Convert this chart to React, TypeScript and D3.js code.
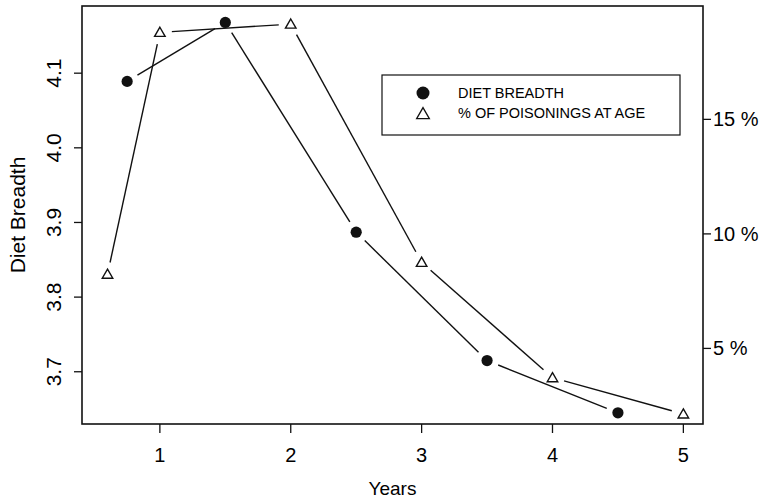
import React, { useRef, useEffect } from "react";
import * as d3 from "d3";

const dietYears = [0.75, 1.5, 2.5, 3.5, 4.5];
const dietBreadth = [4.089, 4.168, 3.887, 3.715, 3.645];
const poisonYears = [0.6, 1, 2, 3, 4, 5];
const poisonPct = [8.24, 18.8, 19.16, 8.76, 3.72, 2.14];
const xTicks = [1, 2, 3, 4, 5];
const leftTicks = [3.7, 3.8, 3.9, 4.0, 4.1];
const rightTicks = [5, 10, 15];
const legendLabels = ["DIET BREADTH", "% OF POISONINGS AT AGE"];

const W = 764;
const H = 501;
const FONT = "'Liberation Sans', Arial, Helvetica, sans-serif";

const App = () => {
  const ref = useRef<SVGSVGElement | null>(null);

  useEffect(() => {
    if (!ref.current) return;
    const svg = d3.select(ref.current);
    svg.selectAll("*").remove();

    const left = 82;
    const right = 703;
    const top = 6;
    const bottom = 424;

    const x = d3.scaleLinear().domain([0.405, 5.15]).range([left, right]);
    const yL = d3.scaleLinear().domain([3.63, 4.19]).range([bottom, top]);
    const yR = d3.scaleLinear().domain([1.7, 19.95]).range([bottom, top]);

    svg.append("rect").attr("width", W).attr("height", H).attr("fill", "#fff");

    // segments with gaps around points (like R type="b")
    const drawSeries = (pts: [number, number][], gap: number) => {
      for (let i = 0; i < pts.length - 1; i++) {
        const [x1, y1] = pts[i];
        const [x2, y2] = pts[i + 1];
        const dx = x2 - x1;
        const dy = y2 - y1;
        const len = Math.sqrt(dx * dx + dy * dy);
        if (len <= gap * 2) continue;
        const ux = dx / len;
        const uy = dy / len;
        svg
          .append("line")
          .attr("x1", x1 + ux * gap)
          .attr("y1", y1 + uy * gap)
          .attr("x2", x2 - ux * gap)
          .attr("y2", y2 - uy * gap)
          .attr("stroke", "#111")
          .attr("stroke-width", 1.4);
      }
    };

    const dietPts: [number, number][] = dietYears.map((d, i) => [x(d), yL(dietBreadth[i])]);
    const poisonPts: [number, number][] = poisonYears.map((d, i) => [x(d), yR(poisonPct[i])]);

    drawSeries(dietPts, 12);
    drawSeries(poisonPts, 12);

    const tri = d3.symbol().type(d3.symbolTriangle).size(48);

    svg
      .selectAll(".dot")
      .data(dietPts)
      .enter()
      .append("circle")
      .attr("cx", (d) => d[0])
      .attr("cy", (d) => d[1])
      .attr("r", 5.6)
      .attr("fill", "#111");

    svg
      .selectAll(".tri")
      .data(poisonPts)
      .enter()
      .append("path")
      .attr("d", tri)
      .attr("transform", (d) => `translate(${d[0]},${d[1] + 1})`)
      .attr("fill", "none")
      .attr("stroke", "#111")
      .attr("stroke-width", 1.4);

    // frame
    svg
      .append("rect")
      .attr("x", left)
      .attr("y", top)
      .attr("width", right - left)
      .attr("height", bottom - top)
      .attr("fill", "none")
      .attr("stroke", "#111")
      .attr("stroke-width", 1.6);

    // bottom axis
    const gx = svg.append("g");
    xTicks.forEach((t) => {
      gx.append("line")
        .attr("x1", x(t))
        .attr("x2", x(t))
        .attr("y1", bottom)
        .attr("y2", bottom + 9)
        .attr("stroke", "#111")
        .attr("stroke-width", 1.3);
      gx.append("text")
        .attr("x", x(t))
        .attr("y", bottom + 38)
        .attr("text-anchor", "middle")
        .style("font-family", FONT)
        .style("font-size", "20px")
        .text(String(t));
    });

    // left axis
    const gl = svg.append("g");
    leftTicks.forEach((t) => {
      gl.append("line")
        .attr("x1", left - 8)
        .attr("x2", left)
        .attr("y1", yL(t))
        .attr("y2", yL(t))
        .attr("stroke", "#111")
        .attr("stroke-width", 1.3);
      gl.append("text")
        .attr("transform", `translate(${left - 21},${yL(t)}) rotate(-90)`)
        .attr("text-anchor", "middle")
        .style("font-family", FONT)
        .style("font-size", "21px")
        .text(d3.format(".1f")(t));
    });

    // right axis
    const gr = svg.append("g");
    rightTicks.forEach((t) => {
      gr.append("line")
        .attr("x1", right)
        .attr("x2", right + 8)
        .attr("y1", yR(t))
        .attr("y2", yR(t))
        .attr("stroke", "#111")
        .attr("stroke-width", 1.3);
      gr.append("text")
        .attr("x", right + 10)
        .attr("y", yR(t) + 7)
        .style("font-family", FONT)
        .style("font-size", "20px")
        .text(`${t} %`);
    });

    // axis titles
    svg
      .append("text")
      .attr("x", (left + right) / 2)
      .attr("y", 495)
      .attr("text-anchor", "middle")
      .style("font-family", FONT)
      .style("font-size", "19px")
      .text("Years");

    svg
      .append("text")
      .attr("transform", `translate(25,${(top + bottom) / 2}) rotate(-90)`)
      .attr("text-anchor", "middle")
      .style("font-family", FONT)
      .style("font-size", "21px")
      .text("Diet Breadth");

    // legend
    const lg = svg.append("g");
    lg.append("rect")
      .attr("x", 382)
      .attr("y", 75)
      .attr("width", 298)
      .attr("height", 60)
      .attr("fill", "#fff")
      .attr("stroke", "#111")
      .attr("stroke-width", 1.2);
    lg.append("circle").attr("cx", 423).attr("cy", 93).attr("r", 6.5).attr("fill", "#111");
    lg.append("path")
      .attr("d", d3.symbol().type(d3.symbolTriangle).size(70))
      .attr("transform", "translate(423,115)")
      .attr("fill", "none")
      .attr("stroke", "#111")
      .attr("stroke-width", 1.3);
    legendLabels.forEach((l, i) => {
      lg.append("text")
        .attr("x", 458)
        .attr("y", 98 + i * 20)
        .style("font-family", FONT)
        .style("font-size", "14.5px")
        .text(l);
    });
  }, []);

  return (
    <svg
      ref={ref}
      width={W}
      height={H}
      style={{ position: "absolute", left: 0, top: 0, display: "block" }}
    />
  );
};

export default App;
